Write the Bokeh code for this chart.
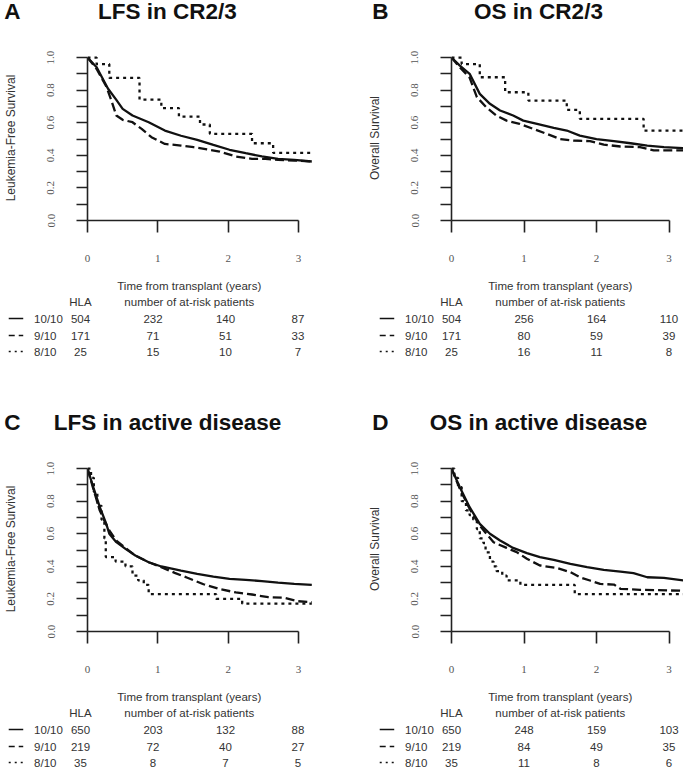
from bokeh.plotting import figure
from bokeh.layouts import column, row
from bokeh.models import Range1d, FixedTicker, LinearAxis, PrintfTickFormatter
from bokeh.core.properties import value
from bokeh.embed import file_html
from bokeh.resources import INLINE

# ---------------- data ----------------
LETTERS = ["A", "B", "C", "D"]
TITLES = ["LFS in CR2/3", "OS in CR2/3", "LFS in active disease", "OS in active disease"]
YLABELS = ["Leukemia-Free Survival", "Overall Survival", "Leukemia-Free Survival", "Overall Survival"]
HLA_GROUPS = ["10/10", "9/10", "8/10"]
X_TICKS = [0, 1, 2, 3]
Y_TICKS = [0.0, 0.2, 0.4, 0.6, 0.8, 1.0]
Y_MINOR = [0.1, 0.3, 0.5, 0.7, 0.9]

# Panel A: LFS in CR2/3
A_T10 = [0, 0.13, 0.29, 0.41, 0.50, 0.64, 0.87, 1.10, 1.33, 1.56, 1.79, 2.02, 2.25, 2.48, 2.71, 2.94, 3.19]
A_S10 = [1.0, 0.94, 0.81, 0.74, 0.685, 0.644, 0.603, 0.552, 0.52, 0.495, 0.464, 0.434, 0.413, 0.393, 0.378, 0.372, 0.362]
A_T9 = [0, 0.13, 0.27, 0.34, 0.41, 0.50, 0.64, 0.77, 0.91, 1.10, 1.33, 1.51, 1.70, 1.88, 2.11, 2.34, 2.53, 2.71, 2.94, 3.19]
A_S9 = [1.0, 0.93, 0.82, 0.736, 0.644, 0.618, 0.603, 0.562, 0.511, 0.47, 0.46, 0.45, 0.436, 0.423, 0.393, 0.378, 0.378, 0.372, 0.368, 0.362]
A_T8 = [0, 0.13, 0.31, 0.74, 1.05, 1.30, 1.60, 1.74, 2.34, 2.64, 3.19]
A_S8 = [1.0, 0.96, 0.875, 0.742, 0.69, 0.638, 0.589, 0.532, 0.474, 0.415, 0.415]
A_RISK10 = [504, 232, 140, 87]
A_RISK9 = [171, 71, 51, 33]
A_RISK8 = [25, 15, 10, 7]

# Panel B: OS in CR2/3
B_T10 = [0, 0.115, 0.25, 0.39, 0.53, 0.67, 0.85, 0.99, 1.18, 1.41, 1.59, 1.77, 2.0, 2.24, 2.47, 2.70, 2.93, 3.20]
B_S10 = [1.0, 0.95, 0.90, 0.777, 0.716, 0.675, 0.644, 0.613, 0.593, 0.569, 0.552, 0.521, 0.50, 0.487, 0.474, 0.46, 0.45, 0.444]
B_T9 = [0, 0.115, 0.25, 0.35, 0.48, 0.62, 0.76, 0.94, 1.13, 1.31, 1.50, 1.68, 1.91, 2.10, 2.33, 2.60, 2.79, 3.20]
B_S9 = [1.0, 0.94, 0.877, 0.757, 0.695, 0.644, 0.613, 0.593, 0.562, 0.532, 0.50, 0.491, 0.487, 0.466, 0.454, 0.45, 0.43, 0.43]
B_T8 = [0, 0.14, 0.39, 0.74, 1.06, 1.59, 1.77, 2.65, 3.20]
B_S8 = [1.0, 0.96, 0.879, 0.787, 0.736, 0.679, 0.624, 0.552, 0.552]
B_RISK10 = [504, 256, 164, 110]
B_RISK9 = [171, 80, 59, 39]
B_RISK8 = [25, 16, 11, 8]

# Panel C: LFS in active disease
C_T10 = [0, 0.083, 0.175, 0.267, 0.31, 0.41, 0.54, 0.68, 0.87, 1.05, 1.33, 1.56, 1.79, 2.02, 2.25, 2.48, 2.71, 2.94, 3.19]
C_S10 = [1.0, 0.885, 0.763, 0.66, 0.60, 0.548, 0.507, 0.466, 0.425, 0.399, 0.374, 0.354, 0.337, 0.323, 0.317, 0.309, 0.30, 0.292, 0.286]
C_T9 = [0, 0.083, 0.175, 0.24, 0.31, 0.41, 0.54, 0.68, 0.87, 1.05, 1.24, 1.42, 1.65, 1.88, 2.11, 2.34, 2.57, 2.80, 2.99, 3.19]
C_S9 = [1.0, 0.875, 0.742, 0.68, 0.62, 0.558, 0.513, 0.466, 0.425, 0.395, 0.36, 0.33, 0.29, 0.26, 0.24, 0.227, 0.211, 0.207, 0.186, 0.18]
C_T8 = [0, 0.05, 0.09, 0.14, 0.20, 0.24, 0.26, 0.40, 0.54, 0.64, 0.72, 0.80, 0.87, 1.83, 2.20, 3.19]
C_S8 = [1.0, 0.943, 0.857, 0.771, 0.686, 0.571, 0.457, 0.429, 0.40, 0.343, 0.314, 0.286, 0.229, 0.20, 0.171, 0.171]
C_RISK10 = [650, 203, 132, 88]
C_RISK9 = [219, 72, 40, 27]
C_RISK8 = [35, 8, 7, 5]

# Panel D: OS in active disease
D_T10 = [0, 0.115, 0.25, 0.39, 0.53, 0.67, 0.85, 1.04, 1.22, 1.41, 1.64, 1.87, 2.10, 2.33, 2.51, 2.70, 2.93, 3.20]
D_S10 = [1.0, 0.885, 0.763, 0.66, 0.60, 0.558, 0.513, 0.481, 0.456, 0.44, 0.415, 0.395, 0.378, 0.368, 0.358, 0.333, 0.329, 0.313]
D_T9 = [0, 0.115, 0.25, 0.39, 0.48, 0.58, 0.76, 0.90, 1.04, 1.22, 1.45, 1.64, 1.77, 1.91, 2.05, 2.24, 2.33, 2.60, 3.20]
D_S9 = [1.0, 0.875, 0.753, 0.65, 0.60, 0.548, 0.513, 0.487, 0.446, 0.405, 0.39, 0.364, 0.333, 0.313, 0.292, 0.288, 0.262, 0.256, 0.25]
D_T8 = [0, 0.04, 0.09, 0.14, 0.20, 0.25, 0.30, 0.35, 0.39, 0.44, 0.47, 0.53, 0.58, 0.62, 0.70, 0.76, 0.95, 1.70, 3.20]
D_S8 = [1.0, 0.943, 0.886, 0.80, 0.743, 0.714, 0.686, 0.629, 0.571, 0.543, 0.486, 0.429, 0.40, 0.371, 0.343, 0.314, 0.286, 0.229, 0.229]
D_RISK10 = [650, 248, 159, 103]
D_RISK9 = [219, 84, 49, 35]
D_RISK8 = [35, 11, 8, 6]

PANELS = [
    (A_T10, A_S10, A_T9, A_S9, A_T8, A_S8, [A_RISK10, A_RISK9, A_RISK8]),
    (B_T10, B_S10, B_T9, B_S9, B_T8, B_S8, [B_RISK10, B_RISK9, B_RISK8]),
    (C_T10, C_S10, C_T9, C_S9, C_T8, C_S8, [C_RISK10, C_RISK9, C_RISK8]),
    (D_T10, D_S10, D_T9, D_S9, D_T8, D_S8, [D_RISK10, D_RISK9, D_RISK8]),
]

# ---------------- layout / style ----------------
SANS = "Liberation Sans"
SERIF = "Liberation Serif"
INK = "#111111"
X_END = 3.2
Y_END = 1.0125
FRAME_W = 232
FRAME_H = 165
HEAD_H = 40
KM_TOP = 15
KM_BOTTOM = 46
BORDERS = [(80, 28), (111, 0)]          # (left, right) per column
LABEL_STANDOFF = [27, 27]
TABLE_H = [145, 92]
PPY = FRAME_W / X_END
DASHES = ["solid", "9 4", "3 4"]
SAMPLE_DASHES = ["solid", "6 4", "2 4"]


def clean(p):
    p.outline_line_color = None
    p.background_fill_color = "white"
    p.border_fill_color = "white"
    p.grid.visible = False


def text_fig(width, height, left, right):
    f = figure(width=width, height=height,
               x_range=Range1d(-left / PPY, X_END + right / PPY),
               y_range=Range1d(height, 0),
               x_axis_type=None, y_axis_type=None, frame_align=False,
               toolbar_location=None, output_backend="svg", min_border=0)
    clean(f)
    return f


def build(i):
    col = i % 2
    rrow = i // 2
    left, right = BORDERS[col]
    width = left + FRAME_W + right
    t10, s10, t9, s9, t8, s8, risks = PANELS[i]

    # header
    h = text_fig(width, HEAD_H, left, right)
    letter_x = -0.94 if col == 0 else -0.98
    title_font = dict(text_font=value(SANS), text_font_size="22.5px", text_font_style="bold",
                      text_color=INK, text_baseline="middle", text_align="center")
    h.text(x=[letter_x], y=[11], text=[LETTERS[i]], **title_font)
    h.text(x=[1.2], y=[11], text=[TITLES[i]], **title_font)

    # KM plot
    p = figure(width=width, height=KM_TOP + FRAME_H + KM_BOTTOM,
               x_range=Range1d(0, X_END), y_range=Range1d(0, Y_END),
               x_axis_type=None, y_axis_type=None, toolbar_location=None, frame_align=False,
               output_backend="svg", min_border_left=left, min_border_right=right,
               min_border_top=KM_TOP, min_border_bottom=KM_BOTTOM)
    clean(p)
    yax = LinearAxis(bounds=(0, 1), ticker=FixedTicker(ticks=Y_TICKS, minor_ticks=Y_MINOR),
                     formatter=PrintfTickFormatter(format="%.1f"), axis_label=YLABELS[i])
    xax = LinearAxis(bounds=(0, 3), ticker=FixedTicker(ticks=X_TICKS, minor_ticks=[]),
                     formatter=PrintfTickFormatter(format="%d"))
    for ax in (yax, xax):
        ax.axis_line_color = "#222222"
        ax.axis_line_width = 1.6
        ax.major_tick_line_color = "#222222"
        ax.major_tick_line_width = 1.6
        ax.minor_tick_line_color = "#222222"
        ax.minor_tick_line_width = 1.6
        ax.major_tick_in = 0
        ax.minor_tick_in = 0
        ax.major_label_text_font = SERIF
        ax.major_label_text_font_size = "11px"
        ax.major_label_text_color = "#555555"
    yax.major_tick_out = 11
    yax.minor_tick_out = 11
    yax.major_label_orientation = "vertical"
    yax.major_label_standoff = 22
    yax.axis_label_text_font = SANS
    yax.axis_label_text_font_size = "12px"
    yax.axis_label_text_font_style = "normal"
    yax.axis_label_text_color = "#333333"
    yax.axis_label_standoff = LABEL_STANDOFF[col]
    xax.major_tick_out = 12
    xax.minor_tick_out = 0
    xax.major_label_standoff = 22
    p.add_layout(yax, "left")
    p.add_layout(xax, "below")

    p.line(t10, s10, line_color=INK, line_width=2.3)
    p.line(t9, s9, line_color=INK, line_width=2.3, line_dash=DASHES[1])
    p.step(t8, s8, mode="after", line_color=INK, line_width=2.3, line_dash=DASHES[2])

    # at-risk table
    th = TABLE_H[rrow]
    t = text_fig(width, th, left, right)
    common = dict(text_font=value(SANS), text_font_size="11.5px", text_color="#333333",
                  text_baseline="middle")
    t.text(x=[1.5, 1.5], y=[19, 35], text=["Time from transplant (years)", "number of at-risk patients"],
           text_align="center", **common)
    t.text(x=[0], y=[35], text=["HLA"], text_align="center", **common)
    row_y = [52, 69, 85]
    for k, grp in enumerate(HLA_GROUPS):
        t.segment(x0=[-0.99], y0=[row_y[k]], x1=[-0.79], y1=[row_y[k]], line_color=INK,
                  line_width=1.6, line_dash=SAMPLE_DASHES[k])
        t.text(x=[-0.64], y=[row_y[k]], text=[grp], text_align="left", **common)
        t.text(x=X_TICKS, y=[row_y[k]] * len(X_TICKS), text=[str(v) for v in risks[k]],
               text_align="center", **common)
    return column(h, p, t, spacing=0)


panels = [build(i) for i in range(4)]
layout = column(row(panels[0], panels[1], spacing=0), row(panels[2], panels[3], spacing=0), spacing=0)

open("out.html", "w").write(file_html(layout, INLINE))
